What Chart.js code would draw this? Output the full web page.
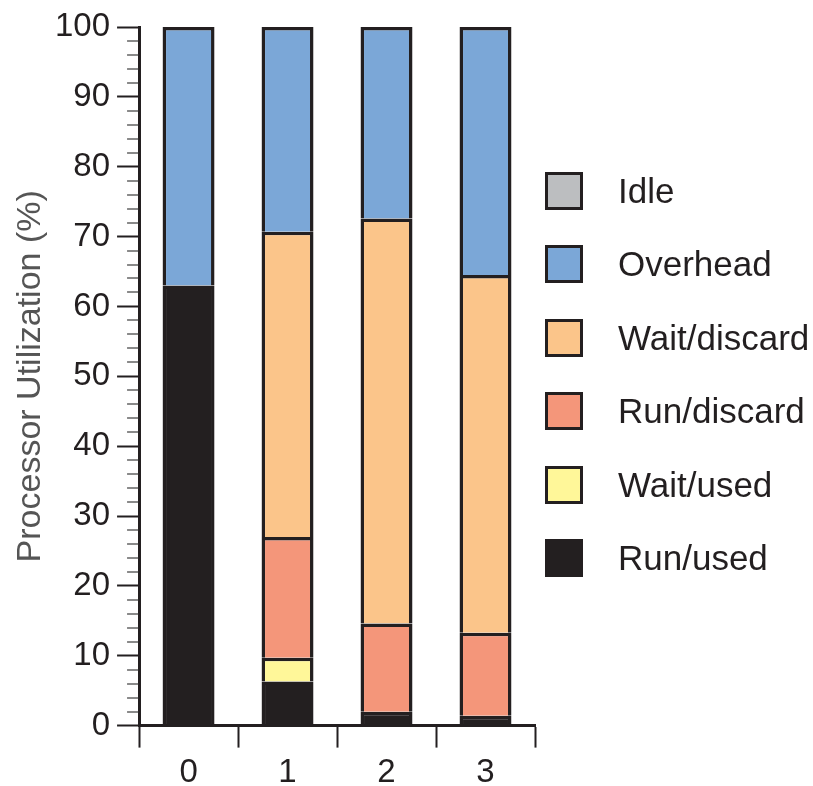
<!DOCTYPE html>
<html>
<head>
<meta charset="utf-8">
<script src="https://cdn.jsdelivr.net/npm/chart.js@4/dist/chart.umd.min.js"></script>
<style>
  html, body { margin: 0; padding: 0; background: #fff; }
  #wrap { position: relative; width: 813px; height: 786px; }
  #legend { position: absolute; left: 545px; top: 0; font-family: "Liberation Sans", Arial, sans-serif; }
  .item { position: absolute; left: 0; height: 38px; white-space: nowrap; }
  .box { position: absolute; left: 0; top: 0; width: 32px; height: 32px; border: 3px solid #231f20; }
  .lbl { position: absolute; left: 73px; top: 0; line-height: 38px; font-size: 35px; color: #231f20; }
</style>
</head>
<body>
<div id="wrap">
  <canvas id="chart" width="813" height="786"></canvas>
  <div id="legend"></div>
</div>
<script>
// categories (x axis)
const categories = ['0', '1', '2', '3'];

// stacked segments, bottom to top, in % of processor time
const runUsed     = [63.0,  6.3,  2.0,  1.4];
const waitUsed    = [ 0.0,  3.4,  0.0,  0.0];
const runDiscard  = [ 0.0, 17.3, 12.6, 11.9];
const waitDiscard = [ 0.0, 43.7, 58.0, 51.2];
const overhead    = [37.0, 29.3, 27.4, 35.5];
const idle        = [ 0.0,  0.0,  0.0,  0.0];

const yTicks = [0, 10, 20, 30, 40, 50, 60, 70, 80, 90, 100];

const ink = '#231f20';
const font = '"Liberation Sans", Arial, sans-serif';

const series = [
  { label: 'Run/used',     data: runUsed,     color: '#231f20' },
  { label: 'Wait/used',    data: waitUsed,    color: '#fff799' },
  { label: 'Run/discard',  data: runDiscard,  color: '#f4967a' },
  { label: 'Wait/discard', data: waitDiscard, color: '#fbc58a' },
  { label: 'Overhead',     data: overhead,    color: '#7ba7d7' },
  { label: 'Idle',         data: idle,        color: '#bcbec0' }
];

// short grey ticks every 2 % between the labelled ones
const minorTicks = {
  id: 'minorTicks',
  afterDraw(chart) {
    const y = chart.scales.y;
    const ctx = chart.ctx;
    ctx.save();
    ctx.strokeStyle = '#8a8a8a';
    ctx.lineWidth = 2;
    for (let v = 2; v < 100; v += 2) {
      if (v % 10 === 0) continue;
      const py = Math.round(y.getPixelForValue(v));
      ctx.beginPath();
      ctx.moveTo(y.right - 12, py);
      ctx.lineTo(y.right - 1, py);
      ctx.stroke();
    }
    ctx.restore();
  }
};

new Chart(document.getElementById('chart'), {
  type: 'bar',
  data: {
    labels: categories,
    datasets: series.map(s => ({
      label: s.label,
      data: s.data,
      backgroundColor: s.color,
      borderColor: ink,
      borderWidth: { top: 3.5, left: 3.5, right: 3.5, bottom: 0 },
      borderSkipped: false,
      categoryPercentage: 1,
      barPercentage: 0.525
    }))
  },
  options: {
    responsive: false,
    animation: false,
    layout: { padding: { left: 14, right: 278, top: 27, bottom: -12 } },
    plugins: { legend: { display: false }, tooltip: { enabled: false } },
    scales: {
      x: {
        stacked: true,
        grid: { drawOnChartArea: false, offset: true, tickLength: 22, tickColor: ink, tickWidth: 2 },
        border: { color: ink, width: 3 },
        ticks: { color: ink, padding: 12, font: { family: font, size: 33, lineHeight: 0.8 } }
      },
      y: {
        stacked: true,
        min: 0,
        max: 100,
        afterBuildTicks: axis => { axis.ticks = yTicks.map(v => ({ value: v })); },
        grid: { drawOnChartArea: false, tickLength: 22, tickColor: ink, tickWidth: 2 },
        border: { color: ink, width: 3 },
        ticks: { color: ink, padding: 7, font: { family: font, size: 33, lineHeight: 0.8 } },
        title: {
          display: true,
          text: 'Processor Utilization (%)',
          color: '#555555',
          padding: { top: 0, bottom: 0 },
          font: { family: font, size: 34, lineHeight: 1.0 }
        }
      }
    }
  },
  plugins: [minorTicks]
});

// legend, top to bottom = reverse of stacking order
const legend = document.getElementById('legend');
series.slice().reverse().forEach((s, i) => {
  const item = document.createElement('div');
  item.className = 'item';
  item.style.top = (172 + i * 73.4) + 'px';
  item.innerHTML = '<div class="box" style="background:' + s.color + '"></div><div class="lbl">' + s.label + '</div>';
  legend.appendChild(item);
});
</script>
</body>
</html>
